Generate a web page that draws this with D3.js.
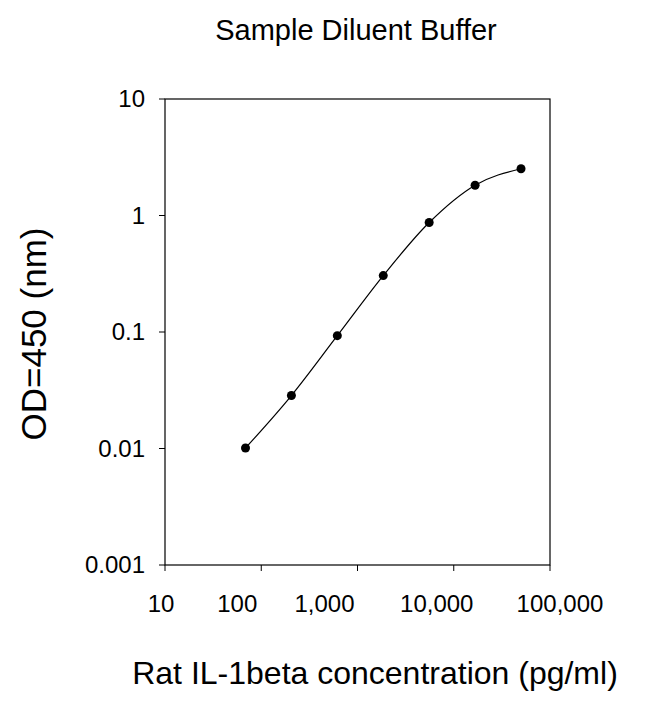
<!DOCTYPE html>
<html><head><meta charset="utf-8">
<script src="https://cdn.jsdelivr.net/npm/d3@7"></script>
<style>body{margin:0;background:#fff}text{font-family:"Liberation Sans",Arial,sans-serif}</style>
</head><body><div id="wrapper"></div>
<script>
const concentrations = [68.6, 205.8, 617, 1852, 5556, 16667, 50000]
const odValues = [0.0101, 0.0285, 0.093, 0.305, 0.87, 1.82, 2.52]
const xTicks = [10, 100, 1000, 10000, 100000]
const yTicks = [0.001, 0.01, 0.1, 1, 10]

const dims = {width: 650, height: 703, margin: {top: 99, right: 100, bottom: 138, left: 165}}
dims.bw = dims.width - dims.margin.left - dims.margin.right
dims.bh = dims.height - dims.margin.top - dims.margin.bottom

const svg = d3.select("#wrapper").append("svg")
    .attr("width", dims.width).attr("height", dims.height)
const g = svg.append("g").attr("transform", `translate(${dims.margin.left},${dims.margin.top})`)

const x = d3.scaleLog().domain([10, 100000]).range([0, dims.bw])
const y = d3.scaleLog().domain([0.001, 10]).range([dims.bh, 0])

// frame
g.append("rect").attr("width", dims.bw).attr("height", dims.bh)
    .attr("fill", "none").attr("stroke", "#000").attr("stroke-width", 1.2)

// x ticks
g.selectAll(".xt").data(xTicks).join("line")
    .attr("x1", d => x(d)).attr("x2", d => x(d))
    .attr("y1", dims.bh).attr("y2", dims.bh + 6).attr("stroke", "#000")
const xLabelShift = [-4, -24, -33, -17, 10]
g.selectAll(".xl").data(xTicks).join("text")
    .attr("x", (d, i) => x(d) + xLabelShift[i]).attr("y", dims.bh + 47)
    .attr("text-anchor", "middle").attr("font-size", 24)
    .text(d => d3.format(",")(d))

// y ticks
g.selectAll(".yt").data(yTicks).join("line")
    .attr("x1", -6).attr("x2", 0)
    .attr("y1", d => y(d)).attr("y2", d => y(d)).attr("stroke", "#000")
g.selectAll(".yl").data(yTicks).join("text")
    .attr("x", -20).attr("y", d => y(d) + 8)
    .attr("text-anchor", "end").attr("font-size", 24)
    .text(d => d3.format("")(d))

// line and points
g.append("path").datum(concentrations.map((c, i) => [c, odValues[i]]))
    .attr("fill", "none").attr("stroke", "#000").attr("stroke-width", 1.2)
    .attr("d", d3.line().x(d => x(d[0])).y(d => y(d[1])).curve(d3.curveMonotoneX))
g.selectAll("circle").data(concentrations).join("circle")
    .attr("cx", d => x(d)).attr("cy", (d, i) => y(odValues[i])).attr("r", 4.5).attr("fill", "#000")

svg.append("text").attr("x", 356).attr("y", 40).attr("text-anchor", "middle")
    .attr("font-size", 29).text("Sample Diluent Buffer")
svg.append("text").attr("x", 375).attr("y", 684).attr("text-anchor", "middle")
    .attr("font-size", 32).text("Rat IL-1beta concentration (pg/ml)")
svg.append("text").attr("transform", "translate(46,334) rotate(-90)").attr("text-anchor", "middle")
    .attr("font-size", 35).text("OD=450 (nm)")
</script></body></html>
